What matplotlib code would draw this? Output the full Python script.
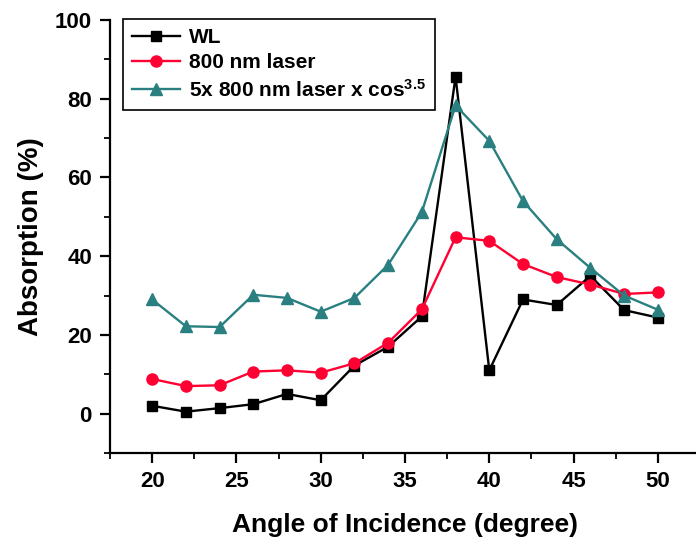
import matplotlib
matplotlib.use("Agg")
import matplotlib.pyplot as plt
from matplotlib.ticker import MultipleLocator

# angle of incidence (degree)
angles = [20, 22, 24, 26, 28, 30, 32, 34, 36, 38, 40, 42, 44, 46, 48, 50]

# absorption (%)
wl = [2.0, 0.5, 1.4, 2.4, 5.0, 3.4, 12.2, 17.0, 24.7, 85.6, 11.0, 29.0, 27.6, 35.0, 26.3, 24.4]
laser_800 = [8.8, 7.0, 7.2, 10.7, 11.0, 10.4, 12.8, 18.0, 26.5, 44.8, 43.9, 38.0, 34.7, 32.8, 30.4, 30.8]
laser_cos = [29.0, 22.2, 22.0, 30.2, 29.4, 25.9, 29.4, 37.8, 51.2, 78.3, 69.3, 54.0, 44.3, 37.0, 30.0, 26.4]

labels = ["WL", "800 nm laser", "5x 800 nm laser x cos$\\mathregular{^{3.5}}$"]

plt.rcParams['font.family'] = ['Liberation Sans', 'DejaVu Sans']
plt.rcParams['font.weight'] = 'bold'
plt.rcParams['mathtext.default'] = 'regular'

fig = plt.figure(figsize=(6.96, 5.42), dpi=100)
ax = fig.add_axes([110 / 696, 89 / 542, 590 / 696, 433 / 542])

ax.plot(angles, wl, '-s', color='black', lw=1.7, ms=7, label=labels[0])
ax.plot(angles, laser_800, '-o', color='#ff0033', lw=1.7, ms=8, label=labels[1])
ax.plot(angles, laser_cos, '-^', color='#2a8080', lw=1.7, ms=9, label=labels[2])

ax.set_xlim(17.5, 52.5)
ax.set_ylim(-10, 100)
ax.xaxis.set_major_locator(MultipleLocator(5))
ax.xaxis.set_minor_locator(MultipleLocator(2.5))
ax.yaxis.set_minor_locator(MultipleLocator(10))
ax.set_yticks(range(0, 101, 20))

for side in ['top', 'right']:
    ax.spines[side].set_visible(False)
for side in ['left', 'bottom']:
    ax.spines[side].set_linewidth(1.6)

ax.tick_params(which='major', direction='out', length=7, width=1.6, labelsize=16, pad=6)
ax.tick_params(which='minor', direction='out', length=4, width=1.3)
for t in ax.get_xticklabels() + ax.get_yticklabels():
    t.set_fontweight('bold')

ax.set_xlabel("Angle of Incidence (degree)", fontsize=19, fontweight='bold', labelpad=15)
ax.set_ylabel("Absorption (%)", fontsize=20, fontweight='bold', labelpad=8)

leg = ax.legend(loc='upper left', bbox_to_anchor=(0.022, 1.003), borderaxespad=0,
                prop={'weight': 'bold', 'size': 15}, handlelength=2.3,
                fancybox=False, edgecolor='black', framealpha=1,
                borderpad=0.45, labelspacing=0.3, handletextpad=0.4)
leg.get_frame().set_linewidth(1.2)

fig.savefig("out.png", dpi=100)
